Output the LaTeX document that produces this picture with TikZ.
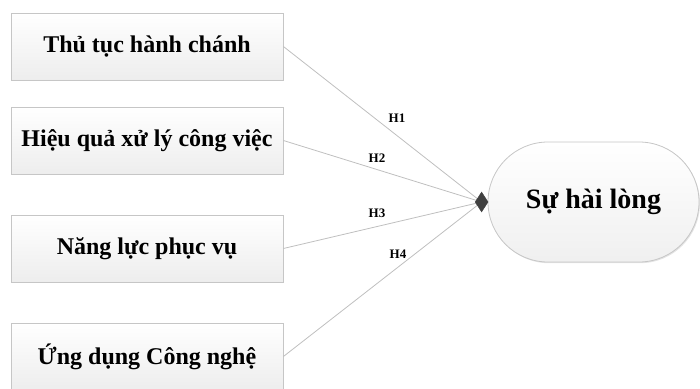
\documentclass[tikz,border=0pt]{standalone}
\usepackage{fontspec}
\setmainfont{Liberation Serif}
\usetikzlibrary{shadows,shapes.geometric}
\begin{document}
\begin{tikzpicture}[x=1pt,y=1pt,
  factor/.style={draw=gray!45, line width=0.8pt, top color=white, bottom color=gray!14,
    minimum width=272pt, minimum height=67pt, inner sep=0pt,
    font=\bfseries\fontsize{24}{28}\selectfont,
    drop shadow={shadow xshift=1pt, shadow yshift=-1.2pt, fill=gray!35, opacity=0.6}},
  outcome/.style={draw=gray!45, line width=0.8pt, top color=white, bottom color=gray!12,
    rounded corners=60pt, minimum width=211pt, minimum height=120pt, inner sep=0pt,
    font=\bfseries\fontsize{28}{32}\selectfont,
    drop shadow={shadow xshift=1pt, shadow yshift=-1.2pt, fill=gray!35, opacity=0.6}},
  link/.style={draw=gray!50, line width=0.8pt},
  hlabel/.style={font=\bfseries\fontsize{13}{15}\selectfont, inner sep=0pt},
  tipmark/.style={diamond, fill=black!75, draw=black!75, minimum width=13pt, minimum height=20pt, inner sep=0pt, aspect=0.65}
]
\useasboundingbox (0,0) rectangle (700,388);
\node[factor] (a) at (147,341.5) {Thủ tục hành chánh};
\node[factor] (b) at (147,247.5) {Hiệu quả xử lý công việc};
\node[factor] (c) at (147,139.5) {Năng lực phục vụ};
\node[factor] (d) at (147,31.5) {Ứng dụng Công nghệ};
\node[outcome] (s) at (593.5,186) {Sự hài lòng};
\coordinate (t) at ([xshift=-6pt]s.west);
\draw[link] (a.east) -- (t);
\draw[link] (b.east) -- (t);
\draw[link] (c.east) -- (t);
\draw[link] (d.east) -- (t);
\node[tipmark] (m) at (t) {};
\node[hlabel] (h1) at (397,270) {H1};
\node[hlabel] (h2) at (377,230) {H2};
\node[hlabel] (h3) at (377,175) {H3};
\node[hlabel] (h4) at (398,134) {H4};
\end{tikzpicture}
\end{document}
